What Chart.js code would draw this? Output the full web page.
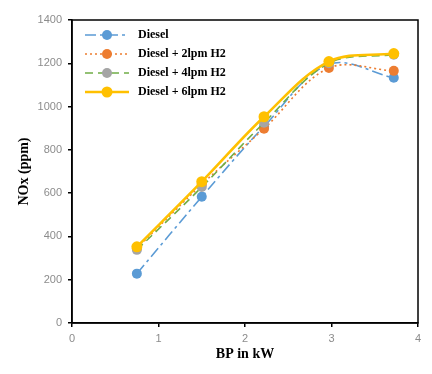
<!DOCTYPE html>
<html>
<head>
<meta charset="utf-8">
<script src="https://cdn.jsdelivr.net/npm/chart.js@4.4.1/dist/chart.umd.min.js"></script>
<style>
html,body{margin:0;padding:0;background:#fff;}
#wrap{width:432px;height:374px;position:relative;}
</style>
</head>
<body>
<div id="wrap"><canvas id="c" width="432" height="374"></canvas></div>
<script>
const bp = [0.75, 1.5, 2.22, 2.97, 3.72];
const seriesNames = ["Diesel", "Diesel + 2lpm H2", "Diesel + 4lpm H2", "Diesel + 6lpm H2"];
const diesel = [228, 583, 908, 1195, 1133];
const h2_2lpm = [345, 640, 898, 1178, 1165];
const h2_4lpm = [338, 628, 925, 1200, 1240];
const h2_6lpm = [352, 653, 953, 1208, 1245];
const yTicks = [0, 200, 400, 600, 800, 1000, 1200, 1400];
const xTicks = [0, 1, 2, 3, 4];

const styles = [
  {line:'#5B9BD5', point:'#5B9BD5', dash:[11,4,3,4], width:1.6, r:5},
  {line:'#ED7D31', point:'#ED7D31', dash:[2,3], width:1.6, r:5},
  {line:'#70AD47', point:'#A5A5A5', dash:[8,5], width:1.6, r:5},
  {line:'#FFC000', point:'#FFC000', dash:[], width:2.6, r:5.5}
];
const values = [diesel, h2_2lpm, h2_4lpm, h2_6lpm];
const drawOrder = [3, 2, 1, 0];

const datasets = values.map((vals, i) => ({
  label: seriesNames[i],
  data: bp.map((x, j) => ({x: x, y: vals[j]})),
  borderColor: styles[i].line,
  backgroundColor: styles[i].point,
  pointBackgroundColor: styles[i].point,
  pointBorderColor: styles[i].point,
  pointRadius: styles[i].r,
  pointBorderWidth: 0,
  borderWidth: styles[i].width,
  borderDash: styles[i].dash,
  borderCapStyle: 'butt',
  tension: 0.35,
  order: drawOrder[i]
}));

const frame = {
  id: 'frame',
  afterDatasetsDraw(chart) {
    const {ctx, chartArea: a} = chart;
    ctx.save();
    ctx.strokeStyle = '#000';
    ctx.lineWidth = 1.5;
    ctx.strokeRect(a.left, a.top, a.right - a.left, a.bottom - a.top);
    const rows = [35, 54, 73, 92];
    ctx.font = 'bold 12px "Liberation Serif"';
    ctx.textBaseline = 'middle';
    rows.forEach((y, i) => {
      const s = styles[i];
      ctx.strokeStyle = s.line;
      ctx.lineWidth = s.width;
      ctx.setLineDash(s.dash);
      ctx.beginPath();
      ctx.moveTo(85, y);
      ctx.lineTo(129, y);
      ctx.stroke();
      ctx.setLineDash([]);
      ctx.fillStyle = s.point;
      ctx.beginPath();
      ctx.arc(107, y, s.r, 0, Math.PI * 2);
      ctx.fill();
      ctx.fillStyle = '#000';
      ctx.fillText(seriesNames[i], 138, y);
    });
    ctx.restore();
  }
};

new Chart(document.getElementById('c'), {
  type: 'line',
  data: {datasets},
  options: {
    responsive: false,
    animation: false,
    layout: {padding: {top: 20, right: 14, left: 0, bottom: 7}},
    plugins: {legend: {display: false}, tooltip: {enabled: false}},
    scales: {
      x: {
        type: 'linear', min: 0, max: 4,
        afterBuildTicks(s) { s.ticks = xTicks.map(v => ({value: v})); },
        afterFit(s) { s.height = 44; },
        grid: {drawOnChartArea: false, drawTicks: true, tickLength: 4, color: '#000', lineWidth: 1.5},
        border: {display: true, color: '#000', width: 1.5},
        ticks: {color: '#8c8c8c', font: {family: 'Liberation Sans', size: 11}, padding: 5, callback: v => String(v)},
        title: {display: true, text: 'BP in kW', color: '#000', font: {family: 'Liberation Serif', size: 14, weight: 'bold'}, padding: {top: 0}}
      },
      y: {
        type: 'linear', min: 0, max: 1400,
        afterBuildTicks(s) { s.ticks = yTicks.map(v => ({value: v})); },
        afterFit(s) { s.width = 72; },
        grid: {drawOnChartArea: false, drawTicks: true, tickLength: 4, color: '#000', lineWidth: 1.5},
        border: {display: true, color: '#000', width: 1.5},
        ticks: {color: '#8c8c8c', font: {family: 'Liberation Sans', size: 11}, padding: 6, callback: v => String(v)},
        title: {display: true, text: 'NOx (ppm)', color: '#000', font: {family: 'Liberation Serif', size: 14, weight: 'bold'}, padding: {bottom: 0, top: 16}}
      }
    }
  },
  plugins: [frame]
});
</script>
</body>
</html>
